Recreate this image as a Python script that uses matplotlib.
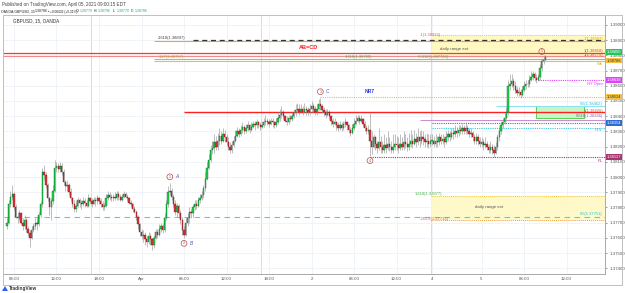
import matplotlib
matplotlib.use("Agg")
import matplotlib.pyplot as plt
from matplotlib.patches import Rectangle, Polygon
import numpy as np

plt.rcParams['font.family'] = ['Liberation Sans', 'DejaVu Sans']

# ---------------- data ----------------
first_open = 1.3768
closes = [
    1.3770, 1.3782, 1.3787, 1.3789, 1.3780, 1.3774, 1.3773, 1.3776, 1.3770, 1.3768,
    1.3772, 1.3766, 1.3763, 1.3760, 1.3765, 1.3768, 1.3770, 1.3769, 1.3775, 1.3782,
    1.3803, 1.3801, 1.3795, 1.3786, 1.3780, 1.3784, 1.3791, 1.3806, 1.3807, 1.3805,
    1.3807, 1.3803, 1.3797, 1.3794, 1.3795, 1.3790, 1.3786, 1.3782, 1.3779, 1.3781,
    1.3785, 1.3783, 1.3782, 1.3784, 1.3783, 1.3781, 1.3786, 1.3784, 1.3782, 1.3785,
    1.3784, 1.3786, 1.3784, 1.3782, 1.3780, 1.3781, 1.3786, 1.3788, 1.3787, 1.3786,
    1.3787, 1.3786, 1.3789, 1.3787, 1.3785, 1.3787, 1.3789, 1.3787, 1.3786, 1.3783,
    1.3782, 1.3779, 1.3777, 1.3774, 1.3769, 1.3764, 1.3761, 1.3762, 1.3759, 1.3757,
    1.3761, 1.3759, 1.3755, 1.3760, 1.3764, 1.3762, 1.3766, 1.3768, 1.3765, 1.3773,
    1.3782, 1.3790, 1.3791, 1.3787, 1.3782, 1.3777, 1.3781, 1.3776, 1.3772, 1.3765,
    1.3762, 1.3770, 1.3773, 1.3777, 1.3776, 1.3780, 1.3782, 1.3781, 1.3785, 1.3786,
    1.3788, 1.3793, 1.3799, 1.3806, 1.3811, 1.3818, 1.3819, 1.3823, 1.3820, 1.3824,
    1.3827, 1.3824, 1.3828, 1.3826, 1.3823, 1.3820, 1.3818, 1.3821, 1.3824, 1.3827,
    1.3830, 1.3828, 1.3831, 1.3833, 1.3830, 1.3832, 1.3834, 1.3831, 1.3833, 1.3835,
    1.3834, 1.3836, 1.3834, 1.3833, 1.3834, 1.3836, 1.3837, 1.3836, 1.3835, 1.3837,
    1.3836, 1.3834, 1.3836, 1.3839, 1.3841, 1.3843, 1.3840, 1.3837, 1.3836, 1.3839,
    1.3838, 1.3840, 1.3842, 1.3844, 1.3845, 1.3843, 1.3845, 1.3843, 1.3845, 1.3844,
    1.3843, 1.3845, 1.3847, 1.3845, 1.3843, 1.3845, 1.3848, 1.3847, 1.3844, 1.3843,
    1.3841, 1.3843, 1.3840, 1.3837, 1.3835, 1.3836, 1.3834, 1.3832, 1.3834, 1.3832,
    1.3835, 1.3836, 1.3834, 1.3831, 1.3829, 1.3832, 1.3835, 1.3837, 1.3839, 1.3837,
    1.3838, 1.3835, 1.3832, 1.3830, 1.3831, 1.3824, 1.3820, 1.3826, 1.3822, 1.3819,
    1.3823, 1.3820, 1.3818, 1.3821, 1.3819, 1.3822, 1.3820, 1.3818, 1.3820, 1.3822,
    1.3821, 1.3819, 1.3822, 1.3820, 1.3823, 1.3822, 1.3820, 1.3822, 1.3824, 1.3822,
    1.3825, 1.3823, 1.3826, 1.3824, 1.3826, 1.3825, 1.3823, 1.3824, 1.3822, 1.3824,
    1.3824, 1.3822, 1.3824, 1.3823, 1.3826, 1.3824, 1.3825, 1.3823, 1.3826, 1.3828,
    1.3826, 1.3829, 1.3828, 1.3830, 1.3829, 1.3831, 1.3830, 1.3832, 1.3830, 1.3832,
    1.3830, 1.3828, 1.3829, 1.3826, 1.3824, 1.3826, 1.3824, 1.3822, 1.3823, 1.3821,
    1.3822, 1.3820, 1.3818, 1.3820, 1.3818, 1.3816, 1.3820, 1.3826, 1.3830, 1.3834,
    1.3836, 1.3839, 1.3843, 1.3860, 1.3861, 1.3863, 1.3860, 1.3857, 1.3855, 1.3856,
    1.3854, 1.3857, 1.3860, 1.3861, 1.3861, 1.3864, 1.3866, 1.3868, 1.3865, 1.3864,
    1.3866, 1.3872, 1.3876, 1.3877, 1.3879,
]
highs = [
    1.3773, 1.3785, 1.3791, 1.3795, 1.3790, 1.3782, 1.3777, 1.3778, 1.3777, 1.3773,
    1.3775, 1.3773, 1.3768, 1.3765, 1.3768, 1.3770, 1.3773, 1.3773, 1.3777, 1.3784,
    1.3806, 1.3808, 1.3803, 1.3796, 1.3787, 1.3786, 1.3795, 1.3811, 1.3810, 1.3809,
    1.3810, 1.3809, 1.3805, 1.3798, 1.3798, 1.3796, 1.3793, 1.3787, 1.3785, 1.3784,
    1.3787, 1.3786, 1.3785, 1.3787, 1.3786, 1.3785, 1.3789, 1.3787, 1.3786, 1.3787,
    1.3787, 1.3788, 1.3787, 1.3786, 1.3784, 1.3783, 1.3789, 1.3791, 1.3790, 1.3789,
    1.3789, 1.3790, 1.3791, 1.3791, 1.3789, 1.3789, 1.3791, 1.3790, 1.3789, 1.3787,
    1.3785, 1.3783, 1.3781, 1.3778, 1.3775, 1.3770, 1.3766, 1.3765, 1.3764, 1.3761,
    1.3764, 1.3763, 1.3760, 1.3762, 1.3766, 1.3766, 1.3769, 1.3770, 1.3769, 1.3776,
    1.3785, 1.3794, 1.3796, 1.3793, 1.3789, 1.3785, 1.3783, 1.3782, 1.3778, 1.3774,
    1.3768, 1.3773, 1.3776, 1.3780, 1.3779, 1.3782, 1.3785, 1.3785, 1.3787, 1.3789,
    1.3791, 1.3795, 1.3803, 1.3810, 1.3815, 1.3821, 1.3824, 1.3828, 1.3827, 1.3829,
    1.3832, 1.3830, 1.3832, 1.3831, 1.3828, 1.3826, 1.3823, 1.3824, 1.3827, 1.3831,
    1.3833, 1.3832, 1.3834, 1.3836, 1.3834, 1.3835, 1.3837, 1.3835, 1.3836, 1.3837,
    1.3837, 1.3838, 1.3837, 1.3836, 1.3837, 1.3839, 1.3841, 1.3839, 1.3838, 1.3839,
    1.3839, 1.3837, 1.3839, 1.3843, 1.3845, 1.3847, 1.3844, 1.3841, 1.3840, 1.3841,
    1.3841, 1.3843, 1.3845, 1.3848, 1.3849, 1.3848, 1.3848, 1.3847, 1.3849, 1.3847,
    1.3846, 1.3848, 1.3850, 1.3849, 1.3847, 1.3848, 1.3851, 1.3852, 1.3848, 1.3846,
    1.3845, 1.3845, 1.3844, 1.3841, 1.3839, 1.3839, 1.3837, 1.3836, 1.3837, 1.3836,
    1.3837, 1.3839, 1.3837, 1.3835, 1.3833, 1.3835, 1.3839, 1.3841, 1.3841, 1.3841,
    1.3841, 1.3839, 1.3837, 1.3834, 1.3834, 1.3842, 1.3830, 1.3828, 1.3827, 1.3824,
    1.3832, 1.3827, 1.3824, 1.3828, 1.3826, 1.3830, 1.3826, 1.3824, 1.3828, 1.3828,
    1.3827, 1.3826, 1.3828, 1.3826, 1.3830, 1.3828, 1.3826, 1.3829, 1.3831, 1.3828,
    1.3831, 1.3829, 1.3832, 1.3830, 1.3831, 1.3830, 1.3828, 1.3829, 1.3828, 1.3828,
    1.3828, 1.3827, 1.3828, 1.3827, 1.3829, 1.3828, 1.3828, 1.3827, 1.3830, 1.3831,
    1.3830, 1.3832, 1.3832, 1.3834, 1.3833, 1.3834, 1.3834, 1.3835, 1.3834, 1.3836,
    1.3834, 1.3832, 1.3832, 1.3830, 1.3828, 1.3829, 1.3828, 1.3826, 1.3826, 1.3825,
    1.3826, 1.3824, 1.3822, 1.3824, 1.3822, 1.3821, 1.3823, 1.3828, 1.3833, 1.3837,
    1.3839, 1.3842, 1.3846, 1.3864, 1.3868, 1.3868, 1.3865, 1.3863, 1.3860, 1.3859,
    1.3858, 1.3860, 1.3863, 1.3864, 1.3864, 1.3867, 1.3870, 1.3870, 1.3869, 1.3868,
    1.3868, 1.3874, 1.3878, 1.3880, 1.3880,
]
lows = [
    1.3766, 1.3769, 1.3780, 1.3785, 1.3778, 1.3773, 1.3770, 1.3772, 1.3769, 1.3765,
    1.3766, 1.3764, 1.3761, 1.3754, 1.3759, 1.3764, 1.3766, 1.3765, 1.3768, 1.3774,
    1.3780, 1.3798, 1.3793, 1.3784, 1.3775, 1.3772, 1.3782, 1.3790, 1.3803, 1.3803,
    1.3803, 1.3801, 1.3795, 1.3791, 1.3791, 1.3788, 1.3784, 1.3780, 1.3777, 1.3777,
    1.3780, 1.3780, 1.3779, 1.3781, 1.3780, 1.3780, 1.3780, 1.3783, 1.3780, 1.3782,
    1.3781, 1.3782, 1.3782, 1.3780, 1.3778, 1.3778, 1.3780, 1.3785, 1.3785, 1.3784,
    1.3784, 1.3785, 1.3785, 1.3785, 1.3784, 1.3784, 1.3786, 1.3786, 1.3784, 1.3782,
    1.3780, 1.3777, 1.3776, 1.3772, 1.3766, 1.3761, 1.3759, 1.3757, 1.3755, 1.3754,
    1.3756, 1.3755, 1.3752, 1.3753, 1.3759, 1.3760, 1.3761, 1.3764, 1.3763, 1.3764,
    1.3772, 1.3780, 1.3788, 1.3785, 1.3780, 1.3775, 1.3774, 1.3773, 1.3769, 1.3762,
    1.3760, 1.3761, 1.3768, 1.3770, 1.3773, 1.3774, 1.3778, 1.3779, 1.3780, 1.3783,
    1.3785, 1.3786, 1.3791, 1.3798, 1.3805, 1.3810, 1.3815, 1.3816, 1.3818, 1.3818,
    1.3821, 1.3822, 1.3823, 1.3823, 1.3821, 1.3818, 1.3816, 1.3816, 1.3820, 1.3823,
    1.3826, 1.3826, 1.3827, 1.3829, 1.3828, 1.3829, 1.3830, 1.3829, 1.3830, 1.3832,
    1.3831, 1.3832, 1.3832, 1.3831, 1.3832, 1.3833, 1.3834, 1.3834, 1.3833, 1.3834,
    1.3833, 1.3832, 1.3833, 1.3835, 1.3837, 1.3839, 1.3838, 1.3836, 1.3834, 1.3835,
    1.3836, 1.3837, 1.3839, 1.3840, 1.3842, 1.3841, 1.3842, 1.3841, 1.3842, 1.3841,
    1.3841, 1.3841, 1.3843, 1.3843, 1.3841, 1.3841, 1.3844, 1.3844, 1.3842, 1.3840,
    1.3839, 1.3840, 1.3838, 1.3834, 1.3833, 1.3834, 1.3831, 1.3830, 1.3831, 1.3830,
    1.3831, 1.3833, 1.3831, 1.3829, 1.3827, 1.3828, 1.3831, 1.3834, 1.3836, 1.3835,
    1.3836, 1.3833, 1.3830, 1.3828, 1.3828, 1.3814, 1.3815, 1.3819, 1.3818, 1.3816,
    1.3818, 1.3816, 1.3816, 1.3816, 1.3816, 1.3818, 1.3817, 1.3816, 1.3816, 1.3818,
    1.3818, 1.3816, 1.3818, 1.3818, 1.3818, 1.3819, 1.3817, 1.3818, 1.3820, 1.3819,
    1.3821, 1.3820, 1.3821, 1.3820, 1.3822, 1.3821, 1.3820, 1.3820, 1.3819, 1.3820,
    1.3821, 1.3820, 1.3820, 1.3820, 1.3821, 1.3822, 1.3822, 1.3820, 1.3822, 1.3824,
    1.3824, 1.3825, 1.3825, 1.3826, 1.3826, 1.3827, 1.3828, 1.3828, 1.3828, 1.3828,
    1.3828, 1.3826, 1.3826, 1.3824, 1.3822, 1.3822, 1.3821, 1.3820, 1.3820, 1.3818,
    1.3819, 1.3818, 1.3816, 1.3816, 1.3815, 1.3813, 1.3815, 1.3818, 1.3824, 1.3828,
    1.3832, 1.3835, 1.3837, 1.3841, 1.3857, 1.3859, 1.3857, 1.3855, 1.3853, 1.3853,
    1.3852, 1.3853, 1.3856, 1.3858, 1.3859, 1.3859, 1.3863, 1.3864, 1.3863, 1.3862,
    1.3863, 1.3864, 1.3870, 1.3874, 1.3877,
]

time_tick_bars = [4, 28, 52, 76, 100, 124, 148, 172, 196, 220, 240, 268, 292, 316]
time_tick_labels = ["06:00", "12:00", "18:00", "Apr", "06:00", "12:00", "18:00",
                    "2", "06:00", "12:00", "4", "5", "06:00", "12:00"]
session_break_bars = [48, 144, 240]
price_ticks = [1.374, 1.375, 1.376, 1.377, 1.378, 1.379, 1.380, 1.381, 1.382,
               1.383, 1.384, 1.385, 1.386, 1.387, 1.388, 1.389, 1.390]

# drawn levels
lvl_ext_top = 1.38933
lvl_2618 = 1.38897
lvl_ext1_bottom = 1.38785
lvl_abcd_1 = 1.38818
lvl_abcd_2 = 1.38795
lvl_green = 1.38778
lvl_orange = 1.38763
lvl_ny_open = 1.38638
lvl_nr7 = 1.38526
lvl_half_a = 1.38465
lvl_green_box_bottom = 1.38385
lvl_red = 1.38426
lvl_purple = 1.38378
lvl_blue = 1.38355
lvl_pdl = 1.38322
lvl_pl = 1.38132
lvl_ext2_top = 1.37877
lvl_ext2_bottom = 1.37717
lvl_half_b = 1.37740

# ---------------- figure ----------------
W, H = 625, 293
fig = plt.figure(figsize=(W / 100, H / 100), dpi=100)
fig.patch.set_facecolor('white')

def fx(px):
    return px / W

def fy(py):
    return 1 - py / H

ax = fig.add_axes([fx(4), fy(274), fx(605) - fx(4), fy(16) - fy(274)])
ax.set_xlim(-1.64, 337.7)
ax.set_ylim(1.37362, 1.39059)
ax.set_facecolor('white')

# grid
ax.set_yticks(price_ticks)
ax.set_yticklabels(["%.5f" % p for p in price_ticks])
ax.set_xticks(time_tick_bars)
ax.set_xticklabels(time_tick_labels)
ax.grid(True, color='#eef1f7', lw=0.6, zorder=0)
ax.set_axisbelow(True)
for b in session_break_bars:
    ax.axvline(b - 0.5, color='#cdd5ea', lw=0.6, zorder=0.5)

ax.yaxis.tick_right()
ax.tick_params(axis='y', labelsize=3.2, colors='#555555', length=1.5, width=0.4, pad=1.5)
ax.tick_params(axis='x', labelsize=3.2, colors='#555555', length=0, pad=2.5)
for s in ['top', 'left']:
    ax.spines[s].set_visible(False)
for s in ['right', 'bottom']:
    ax.spines[s].set_color('#a9a9a9')
    ax.spines[s].set_linewidth(0.7)

xmax = 337.7
# ---------------- zones / levels ----------------
ax.add_patch(Rectangle((239.5, lvl_ext1_bottom), xmax - 239.5, lvl_ext_top - lvl_ext1_bottom,
                       fc='#fff7b8', ec='none', alpha=0.85, zorder=1))
ax.hlines(lvl_ext_top, 239.5, xmax, color='#f2cc4a', lw=0.7, linestyles=(0, (1, 1)), zorder=2)
ax.add_patch(Rectangle((239.5, lvl_ext2_bottom), xmax - 239.5, lvl_ext2_top - lvl_ext2_bottom,
                       fc='#fff9c4', ec='none', alpha=0.9, zorder=1))
ax.hlines(lvl_ext2_top, 239.5, xmax, color='#f4c542', lw=0.7, linestyles=(0, (1, 1)), zorder=2)
ax.hlines(lvl_ext2_bottom, 239.5, xmax, color='#f0a030', lw=0.7, linestyles=(0, (1, 1)), zorder=2)

ax.hlines(lvl_2618, 83, xmax, color='#f5a623', lw=0.8, zorder=2)
ax.hlines(lvl_2618 + 0.00006, 105, xmax, color='#333333', lw=0.9, linestyles=(0, (4, 3)), zorder=2.1)

ax.axhline(lvl_abcd_1, color='#f03a3a', lw=0.9, zorder=2)
ax.axhline(lvl_abcd_2, color='#f28a8a', lw=0.8, zorder=2)
ax.hlines(lvl_green, 83, xmax, color='#7fcf7f', lw=0.8, zorder=2)
ax.hlines(lvl_orange, 83, xmax, color='#f2b36b', lw=0.8, zorder=2)

ax.hlines(lvl_ny_open, 300, xmax, color='#e040fb', lw=0.8, linestyles=(0, (1, 1)), zorder=2)
ax.hlines(lvl_nr7, 177, xmax, color='#f5b942', lw=0.8, linestyles=(0, (1, 1)), zorder=2)
ax.hlines(lvl_half_a, 276, xmax, color='#8fe3ef', lw=0.8, zorder=2)
ax.add_patch(Rectangle((299, lvl_green_box_bottom), 326 - 299, lvl_half_a - lvl_green_box_bottom,
                       fc='#c9f5c4', ec='#3ccf3c', lw=0.6, zorder=1.5))
ax.hlines(lvl_red, 100, xmax, color='#ff1f1f', lw=1.0, zorder=2.5)
ax.hlines(lvl_purple, 233, xmax, color='#d08ad0', lw=0.7, zorder=2)
ax.hlines(lvl_blue, 240, xmax, color='#3a6fd8', lw=0.8, linestyles=(0, (1, 1)), zorder=2)
ax.hlines(lvl_pdl, 240, xmax, color='#40c8e0', lw=0.8, linestyles=(0, (1, 1)), zorder=2)
ax.hlines(lvl_pl, 205, xmax, color='#a8336e', lw=0.8, linestyles=(0, (1, 1)), zorder=2)
ax.axhline(lvl_half_b, color='#45d6e6', lw=0.8, linestyle=(0, (5, 4)), zorder=2)

# ---------------- candles ----------------
c = np.array(closes)
o = np.array([first_open] + closes[:-1])
h = np.maximum(np.array(highs), np.maximum(o, c))
l = np.minimum(np.array(lows), np.minimum(o, c))
idx = np.arange(len(c))
up = c >= o
ax.vlines(idx, l, h, color='#9a9a9a', lw=0.45, zorder=3)
bot = np.minimum(o, c)
hei = np.maximum(np.abs(c - o), 0.00003)
ax.bar(idx[up], hei[up], bottom=bot[up], width=0.75, color='#19d94a', edgecolor='#0d4f1f',
       lw=0.25, zorder=4)
ax.bar(idx[~up], hei[~up], bottom=bot[~up], width=0.75, color='#e2343a', edgecolor='#5a1414',
       lw=0.25, zorder=4)

# ---------------- texts in chart ----------------
def txt(x, y, s, color, size=3.0, ha='left', va='center', **kw):
    ax.text(x, y, s, color=color, fontsize=size, ha=ha, va=va, zorder=6, **kw)

txt(85, lvl_2618 + 0.00004, "2.618(1.38897)", '#444444', va='bottom')
txt(233, lvl_ext_top, "-1(1.38933)", '#e05a5a')
txt(244.5, 1.38842, "daily range ext", '#555555', size=3.2)
txt(170, 1.38849, "AB=CD", '#ff1a1a', size=4.0, ha='center', fontweight='bold')
txt(86, 1.38790, "1.27(1.38757)", '#b9a23c')
txt(191, 1.38790, "1.618(1.38760)", '#4cb050')
txt(232, 1.38790, "-0.618(1.387720)", '#4cb050')
txt(205, 1.38560, "NR7", '#2438d6', size=3.6, ha='center', fontweight='bold')
txt(230.4, 1.37890, "1.618(1.37877)", '#4cb050')
txt(233, 1.37725, "-261.8(1.37713)", '#e05a5a')
txt(264.5, 1.37800, "daily range ext", '#555555', size=3.2)

def right_label(val, s, color, dy=0):
    ax.annotate(s, xy=(1.0, val), xycoords=('axes fraction', 'data'), xytext=(-1.5, dy),
                textcoords='offset points', ha='right', va='center', fontsize=2.9,
                color=color, zorder=6)

right_label(1.38905, "1(1.38897)", '#d9b100')
right_label(1.38829, "1(1.38818)", '#e04040')
right_label(1.38800, "1(1.38775)", '#e04040')
right_label(1.38743, "Wk", '#d9b100')
right_label(1.38612, "NY Open", '#e040fb')
right_label(1.38482, "0.5(1.38462)", '#2bbfd6')
right_label(1.38434, "1(1.38426)", '#c0603a')
right_label(1.38401, "0.618(1.38366)", '#9a5aa6')
right_label(1.38310, "PDL", '#2bbfd6')
right_label(1.38106, "PL", '#a8336e')
right_label(1.37757, "0.5(1.37751)", '#2bbfd6')

def price_box(val, s, fc, tc):
    ax.annotate(s, xy=(1.0, val), xycoords=('axes fraction', 'data'), xytext=(1.2, 0),
                textcoords='offset points', ha='left', va='center', fontsize=2.9, color=tc,
                bbox=dict(boxstyle='square,pad=0.15', fc=fc, ec='none'),
                annotation_clip=False, zorder=10)

price_box(1.38822, "1.38800", '#22c55e', 'white')
price_box(1.38766, "1.38786", '#f5c242', '#333333')
price_box(lvl_ny_open, "1.38638", '#e040fb', 'white')
price_box(lvl_nr7, "1.38524", '#f5c242', '#333333')
price_box(lvl_blue, "1.38354", '#2f6bd1', 'white')
price_box(lvl_pl, "1.38127", '#a8336e', 'white')

# swing labels
circ = '#b24a4a'
def swing(bar, price, num, dy, letter=None):
    ax.annotate(num, xy=(bar, price), xytext=(0, dy), textcoords='offset points',
                ha='center', va='center', fontsize=2.6, color=circ, zorder=7,
                bbox=dict(boxstyle='circle,pad=0.25', fc='none', ec=circ, lw=0.5))
    if letter:
        ax.annotate(letter, xy=(bar, price), xytext=(5.2, dy), textcoords='offset points',
                    ha='center', va='center', fontsize=3.4, color='#3f51c5',
                    style='italic', zorder=7)

swing(92, highs[92], "1", 4.5, "A")
swing(100, lows[100], "2", -4.0, "B")
swing(177, highs[177], "3", 4.5, "C")
swing(205, lows[205], "4", -3.5)
swing(302, highs[302], "5", 5.0)

# ---------------- figure-level decorations ----------------
fig.add_artist(Rectangle((fx(3), fy(285)), fx(622) - fx(3), fy(15) - fy(285),
                         transform=fig.transFigure, fill=False, ec='#b5b5b5', lw=0.6))

def ftxt(px, py, s, color='#333333', size=3.3, **kw):
    fig.text(fx(px), fy(py), s, color=color, fontsize=size, ha='left', va='center', **kw)

ftxt(2, 4.5, "Published on TradingView.com, April 05, 2021 09:00:15 EDT", '#444444', 3.3)
hs = 2.5
ftxt(1.5, 11.5, "OANDA:GBPUSD, 15", '#222222', hs)
ftxt(35, 11.5, "1.38786", '#222222', hs)
ftxt(46.5, 11.5, "\u25b2", '#26a69a', 2.3)
ftxt(49.5, 11.5, "+0.00432 (+0.31%)", '#222222', 2.35)
ftxt(76, 11.5, "O:", '#222222', hs)
ftxt(79.8, 11.5, "1.38770", '#26a69a', hs)
ftxt(94, 11.5, "H:", '#222222', hs)
ftxt(98, 11.5, "1.38796", '#26a69a', hs)
ftxt(113, 11.5, "L:", '#222222', hs)
ftxt(116.5, 11.5, "1.38770", '#26a69a', hs)
ftxt(131, 11.5, "C:", '#222222', hs)
ftxt(134.5, 11.5, "1.38786", '#26a69a', hs)
ftxt(13, 21, "GBPUSD, 15, OANDA", '#333333', 3.3)

fig.add_artist(Polygon([[fx(2), fy(291)], [fx(5), fy(286)], [fx(8), fy(291)]],
                       closed=True, transform=fig.transFigure, fc='#2962ff', ec='none'))
ftxt(9, 288.5, "TradingView", '#333333', 3.4, fontweight='bold')

fig.savefig("out.png", dpi=100, facecolor='white')
